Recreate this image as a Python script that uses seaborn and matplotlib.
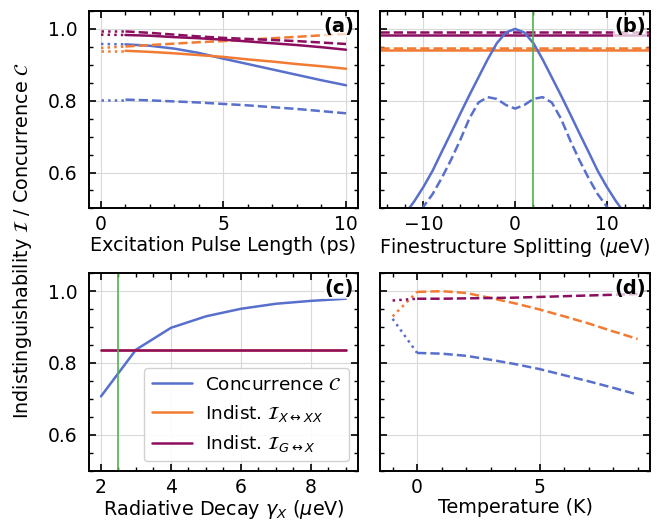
import matplotlib
matplotlib.use("Agg")
import matplotlib.pyplot as plt
from matplotlib.ticker import AutoMinorLocator, MultipleLocator
import seaborn as sns

# colours
blue = "#5870CC"
orange = "#F27B34"
purple = "#8C0E60"
green = "#4DB34D"

# (a) excitation pulse length
pulse_dot = [0, 1]
pulse = [1, 2, 3, 4, 5, 6, 7, 8, 9, 10]
a_conc_dot = [0.958, 0.957]
a_conc = [0.957, 0.953, 0.945, 0.933, 0.917, 0.902, 0.887, 0.872, 0.857, 0.843]
a_conc2_dot = [0.803, 0.803]
a_conc2 = [0.803, 0.801, 0.798, 0.795, 0.791, 0.787, 0.782, 0.777, 0.771, 0.765]
a_xx_dot = [0.939, 0.939]
a_xx = [0.939, 0.936, 0.932, 0.927, 0.922, 0.915, 0.909, 0.902, 0.896, 0.889]
a_xx2_dot = [0.947, 0.951]
a_xx2 = [0.951, 0.955, 0.959, 0.963, 0.966, 0.970, 0.974, 0.978, 0.982, 0.986]
a_gx_dot = [0.984, 0.983]
a_gx = [0.983, 0.981, 0.977, 0.974, 0.970, 0.965, 0.960, 0.955, 0.949, 0.942]
a_gx2_dot = [0.993, 0.993]
a_gx2 = [0.993, 0.989, 0.984, 0.979, 0.975, 0.972, 0.969, 0.966, 0.962, 0.958]

# (b) finestructure splitting
fss = [-14, -13, -12, -11, -10, -9, -8, -7, -6, -5, -4, -3, -2, -1, 0,
       1, 2, 3, 4, 5, 6, 7, 8, 9, 10, 11, 12, 13, 14]
b_conc = [0.42, 0.45, 0.485, 0.52, 0.56, 0.605, 0.658, 0.71, 0.763, 0.815, 0.865, 0.915, 0.96, 0.99, 1.0,
          0.99, 0.96, 0.915, 0.865, 0.815, 0.763, 0.71, 0.658, 0.605, 0.56, 0.52, 0.485, 0.45, 0.42]
b_conc2 = [0.385, 0.41, 0.44, 0.47, 0.505, 0.54, 0.585, 0.635, 0.69, 0.75, 0.795, 0.81, 0.805, 0.788, 0.778,
           0.788, 0.805, 0.81, 0.795, 0.75, 0.69, 0.635, 0.585, 0.54, 0.505, 0.47, 0.44, 0.41, 0.385]
b_xx = 0.940
b_xx2 = 0.947
b_gx = 0.982
b_gx2 = 0.992
b_marker = 2.0

# (c) radiative decay
gamma = [2, 3, 4, 5, 6, 7, 8, 9]
c_conc = [0.707, 0.837, 0.898, 0.930, 0.951, 0.965, 0.973, 0.979]
c_xx = [0.835, 0.835, 0.835, 0.835, 0.835, 0.835, 0.835, 0.835]
c_gx = [0.835, 0.835, 0.835, 0.835, 0.835, 0.835, 0.835, 0.835]
c_marker = 2.5

# (d) temperature
temp_dot = [-1, 0]
temp = [0, 1, 2, 3, 4, 5, 6, 7, 8, 9]
d_conc_dot = [0.923, 0.828]
d_conc = [0.828, 0.826, 0.820, 0.809, 0.797, 0.783, 0.766, 0.749, 0.731, 0.712]
d_xx_dot = [0.930, 0.998]
d_xx = [0.998, 1.0, 0.995, 0.981, 0.966, 0.949, 0.930, 0.910, 0.888, 0.867]
d_gx_dot = [0.974, 0.979]
d_gx = [0.979, 0.979, 0.980, 0.981, 0.982, 0.984, 0.986, 0.988, 0.990, 0.992]

fs = 13.5
lfs = 13.8
sns.set_style("whitegrid")
plt.rcParams.update({
    "font.family": ["DejaVu Sans"],
    "font.size": fs,
    "text.color": "black",
    "axes.labelcolor": "black",
    "axes.edgecolor": "black",
    "axes.linewidth": 1.4,
    "xtick.direction": "in",
    "ytick.direction": "in",
    "xtick.major.size": 5,
    "ytick.major.size": 5,
    "xtick.minor.size": 3,
    "ytick.minor.size": 3,
    "xtick.major.width": 1.2,
    "ytick.major.width": 1.2,
    "xtick.minor.width": 1.0,
    "ytick.minor.width": 1.0,
    "xtick.major.pad": 5,
    "ytick.major.pad": 8,
    "xtick.color": "black",
    "ytick.color": "black",
    "xtick.labelsize": fs,
    "ytick.labelsize": fs,
    "axes.labelsize": lfs,
    "axes.labelpad": 1,
    "grid.color": "0.85",
})

fig, axs = plt.subplots(2, 2, figsize=(6.7, 5.21), dpi=100, sharey=True)
fig.subplots_adjust(left=0.1324, right=0.970, top=0.979, bottom=0.0965,
                    wspace=0.082, hspace=0.328)
lw = 1.8


def line(ax, x, y, color, ls="-", label=None):
    sns.lineplot(x=x, y=y, ax=ax, color=color, linestyle=ls, linewidth=lw,
                 label=label, legend=False)


# (a)
ax = axs[0, 0]
line(ax, pulse_dot, a_conc_dot, blue, ":")
line(ax, pulse, a_conc, blue)
line(ax, pulse_dot, a_conc2_dot, blue, ":")
line(ax, pulse, a_conc2, blue, "--")
line(ax, pulse_dot, a_xx_dot, orange, ":")
line(ax, pulse, a_xx, orange)
line(ax, pulse_dot, a_xx2_dot, orange, ":")
line(ax, pulse, a_xx2, orange, "--")
line(ax, pulse_dot, a_gx_dot, purple, ":")
line(ax, pulse, a_gx, purple)
line(ax, pulse_dot, a_gx2_dot, purple, ":")
line(ax, pulse, a_gx2, purple, "--")
ax.set_xlim(-0.5, 10.5)
ax.xaxis.set_major_locator(MultipleLocator(5))
ax.set_xlabel("Excitation Pulse Length (ps)")

# (b)
ax = axs[0, 1]
ax.axhline(b_xx, color=orange, linewidth=lw)
ax.axhline(b_xx2, color=orange, linewidth=lw, linestyle="--")
ax.axhline(b_gx, color=purple, linewidth=lw)
ax.axhline(b_gx2, color=purple, linewidth=lw, linestyle="--")
line(ax, fss, b_conc, blue)
line(ax, fss, b_conc2, blue, "--")
ax.axvline(b_marker, color=green, linewidth=1.2)
ax.set_xlim(-14.7, 14.7)
ax.xaxis.set_major_locator(MultipleLocator(10))
ax.set_xlabel(r"Finestructure Splitting ($\mu$eV)")

# (c)
ax = axs[1, 0]
line(ax, gamma, c_conc, blue, label=r"Concurrence $\mathcal{C}$")
line(ax, gamma, c_xx, orange, label=r"Indist. $\mathcal{I}_{X\leftrightarrow XX}$")
line(ax, gamma, c_gx, purple, label=r"Indist. $\mathcal{I}_{G\leftrightarrow X}$")
ax.axvline(c_marker, color=green, linewidth=1.2)
ax.set_xlim(1.65, 9.35)
ax.xaxis.set_major_locator(MultipleLocator(2))
ax.set_xlabel(r"Radiative Decay $\gamma_X$ ($\mu$eV)")
ax.legend(loc="lower right", fontsize=13.3, handlelength=2.2, handletextpad=0.7,
          framealpha=0.9)

# (d)
ax = axs[1, 1]
line(ax, temp_dot, d_conc_dot, blue, ":")
line(ax, temp, d_conc, blue, "--")
line(ax, temp_dot, d_xx_dot, orange, ":")
line(ax, temp, d_xx, orange, "--")
line(ax, temp_dot, d_gx_dot, purple, ":")
line(ax, temp, d_gx, purple, "--")
ax.set_xlim(-1.5, 9.5)
ax.xaxis.set_major_locator(MultipleLocator(5))
ax.set_xlabel("Temperature (K)")

for ax, tag in zip(axs.flat, ["(a)", "(b)", "(c)", "(d)"]):
    ax.set_ylim(0.5, 1.05)
    ax.set_yticks([0.6, 0.8, 1.0])
    ax.set_ylabel("")
    ax.xaxis.set_minor_locator(AutoMinorLocator())
    ax.yaxis.set_minor_locator(AutoMinorLocator())
    ax.tick_params(which="both", direction="in", top=True, right=True,
                   bottom=True, left=True)
    ax.grid(True, which="major")
    ax.text(0.985, 0.97, tag, transform=ax.transAxes, ha="right", va="top",
            fontsize=14, fontweight="bold",
            bbox=dict(facecolor="white", edgecolor="none", alpha=0.7, pad=0.5))

fig.text(0.033, 0.5377, r"Indistinguishability $\mathcal{I}$ / Concurrence $\mathcal{C}$",
         rotation=90, ha="center", va="center", fontsize=lfs)

fig.savefig("out.png", dpi=100)
